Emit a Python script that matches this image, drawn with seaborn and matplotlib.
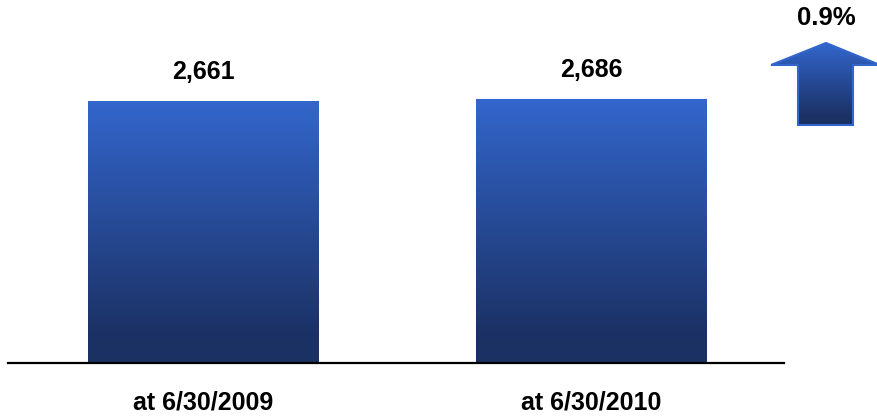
import numpy as np
import pandas as pd
import matplotlib
matplotlib.use("Agg")
import matplotlib.pyplot as plt
from matplotlib.colors import LinearSegmentedColormap
from matplotlib.patches import Polygon
import seaborn as sns

# Headcount at period end
periods = ["at 6/30/2009", "at 6/30/2010"]
values = [2661, 2686]
value_labels = ["2,661", "2,686"]
change_label = "0.9%"

sns.set_theme(style="white")
plt.rcParams["font.family"] = ["Liberation Sans", "DejaVu Sans"]

W, H = 878, 417
fig = plt.figure(figsize=(W / 100, H / 100), dpi=100)
ax = fig.add_axes([8 / W, (H - 363) / H, 776 / W, 363 / H])

df = pd.DataFrame({"period": periods, "value": values})
sns.barplot(data=df, x="period", y="value", ax=ax, width=0.594,
            color="#3366CC", saturation=1, errorbar=None)

# vertical blue gradient, dark at the base and bright at the top
grad = LinearSegmentedColormap.from_list(
    "bar", [(0.0, "#1B3162"), (0.12, "#1C3266"), (1.0, "#3366CC")])
ramp = np.linspace(0, 1, 256).reshape(-1, 1)

for patch in list(ax.patches):
    x0 = patch.get_x()
    x1 = x0 + patch.get_width()
    h = patch.get_height()
    im = ax.imshow(ramp, cmap=grad, origin="lower", aspect="auto",
                   extent=(x0, x1, 0, h), zorder=patch.get_zorder())
    im.set_clip_path(patch)
    patch.set_facecolor("none")
    patch.set_edgecolor("none")

ax.set_xlim(-0.504, 1.497)
ax.set_ylim(0, 3690)

for i, (v, lab) in enumerate(zip(values, value_labels)):
    ax.annotate(lab, (i, v), xytext=(0, 21), textcoords="offset points",
                ha="center", va="center", fontsize=18, fontweight="bold",
                color="black")

for side in ["top", "right", "left"]:
    ax.spines[side].set_visible(False)
ax.spines["bottom"].set_color("black")
ax.spines["bottom"].set_linewidth(1.6)
ax.set_yticks([])
ax.set_xlabel("")
ax.set_ylabel("")
ax.tick_params(axis="x", length=0, pad=20)
for t in ax.get_xticklabels():
    t.set_fontsize(18)
    t.set_fontweight("bold")
    t.set_color("black")

# growth arrow in the upper right corner
fig.text(826 / W, 1 - 18 / H, change_label, ha="center", va="center",
         fontsize=18.5, fontweight="bold", color="black")

aax = fig.add_axes([766 / W, 1 - 130 / H, 112 / W, 92 / H])
aax.set_xlim(766, 878)
aax.set_ylim(130, 38)
aax.axis("off")
arrow = Polygon([(771, 65), (826, 43), (880, 65), (853, 65), (853, 125),
                 (798, 125), (798, 65)], closed=True, facecolor="none",
                edgecolor="#3366CC", linewidth=1.5, zorder=3)
aax.add_patch(arrow)
aim = aax.imshow(ramp, cmap=grad, origin="lower", aspect="auto",
                 extent=(766, 880, 125, 43), zorder=2)
aim.set_clip_path(arrow)
aax.set_xlim(766, 878)
aax.set_ylim(130, 38)

fig.savefig("out.png", dpi=100)
